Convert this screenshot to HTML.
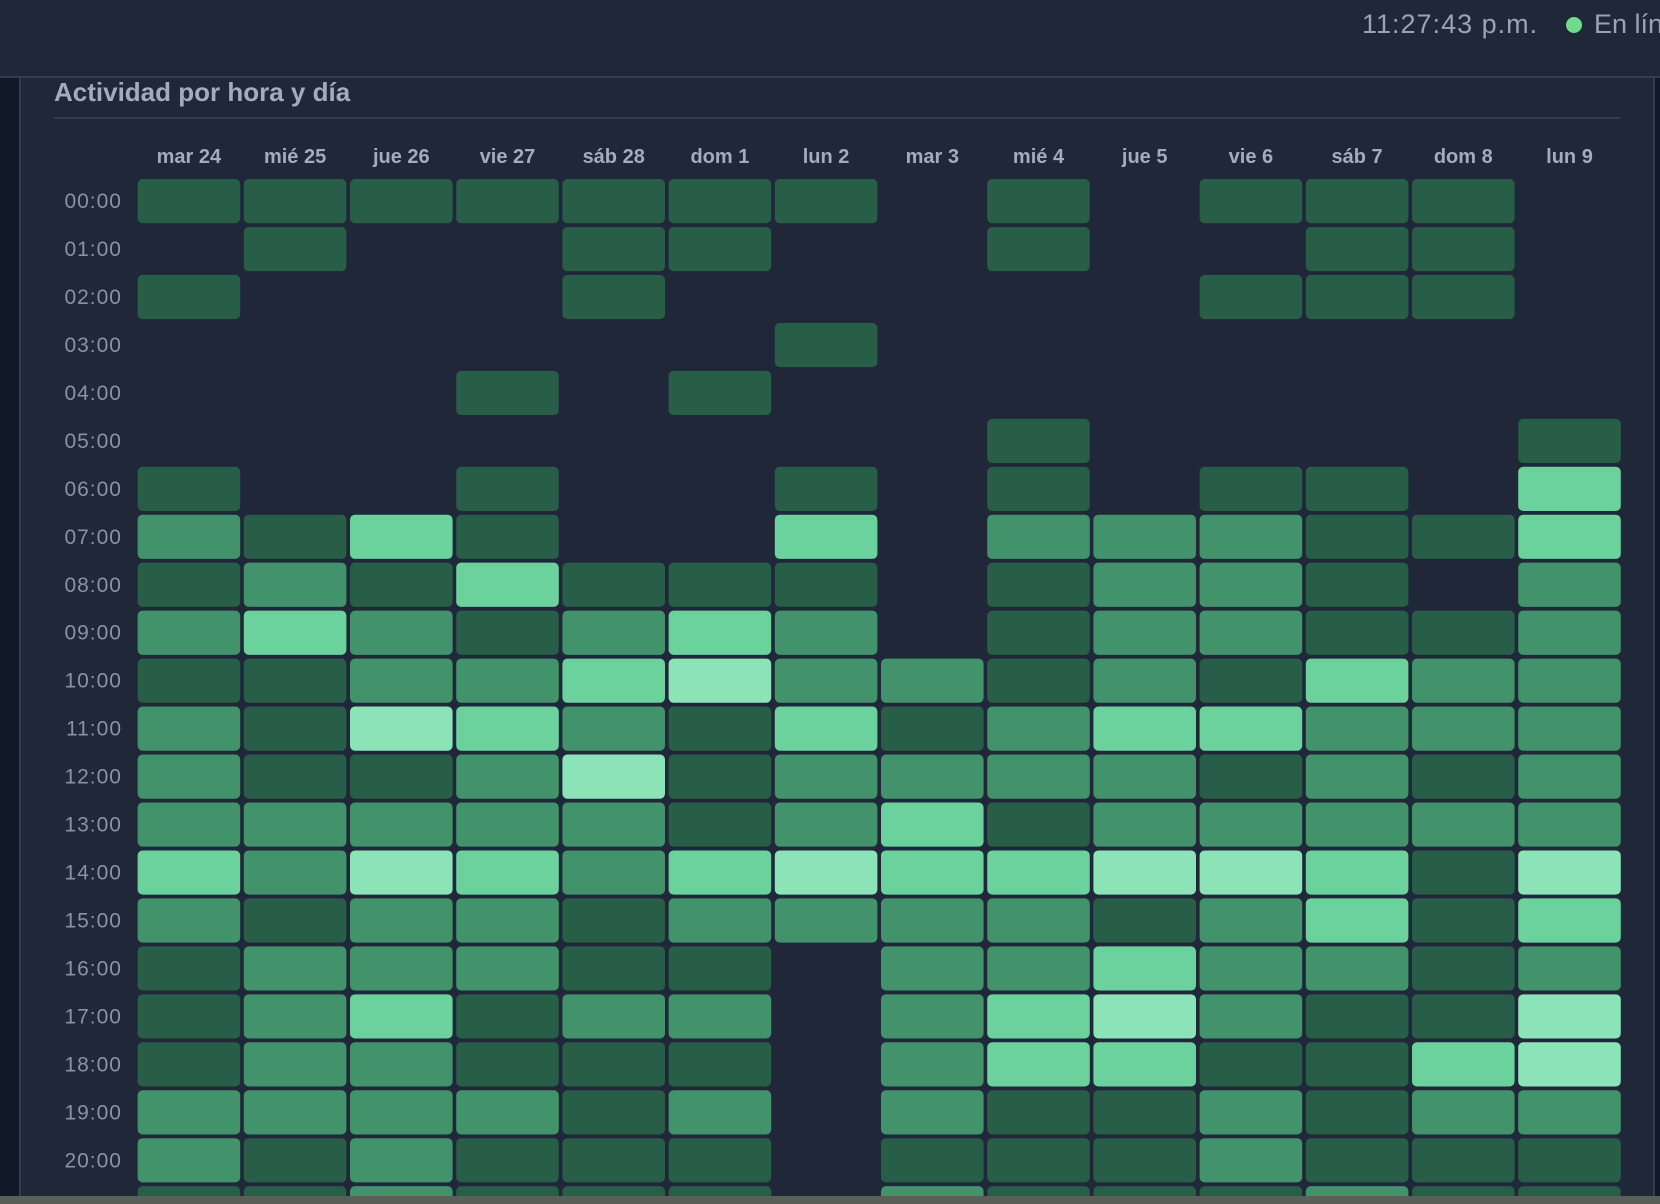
<!DOCTYPE html>
<html><head><meta charset="utf-8">
<style>
html,body{margin:0;padding:0;width:1660px;height:1204px;overflow:hidden;background:#1f2739;font-family:"Liberation Sans",sans-serif}
#top{position:absolute;left:0;top:0;width:1660px;height:76px;background:#1f2739;border-bottom:2px solid #333d50}
#clock{position:absolute;left:1362px;top:9px;font-size:27px;letter-spacing:1px;color:#9aa3b5}
#dot{position:absolute;left:1566px;top:17px;width:16px;height:16px;border-radius:50%;background:#6fdc8c}
#status{position:absolute;left:1594px;top:9px;font-size:27px;color:#9aa3b5;white-space:nowrap}
#leftstrip{position:absolute;left:0;top:78px;width:19px;height:1118px;background:#111827;border-right:2px solid #333d50}
#rightstrip{position:absolute;left:1653px;top:78px;width:7px;height:1118px;background:#111827;border-left:2px solid #333d50}
#bottom{position:absolute;left:0;top:1196px;width:1660px;height:8px;background:#5a6058}
#title{position:absolute;left:54px;top:77px;font-size:26px;font-weight:bold;color:#a3acbd}
#sep{position:absolute;left:54px;top:117px;width:1566px;height:2px;background:#333d50}
svg{position:absolute;left:0;top:0}
</style></head><body>
<div id="top"></div>
<div id="clock">11:27:43 p.m.</div>
<div id="dot"></div>
<div id="status">En línea</div>
<div id="leftstrip"></div>
<div id="rightstrip"></div>
<div id="title">Actividad por hora y día</div>
<div id="sep"></div>
<svg id="chart" width="1660" height="1196"></svg>
<div id="bottom"></div>
<script>
const days=["mar 24","mié 25","jue 26","vie 27","sáb 28","dom 1","lun 2","mar 3","mié 4","jue 5","vie 6","sáb 7","dom 8","lun 9"];
const hours=["00:00","01:00","02:00","03:00","04:00","05:00","06:00","07:00","08:00","09:00","10:00","11:00","12:00","13:00","14:00","15:00","16:00","17:00","18:00","19:00","20:00","21:00"];
const levels=[
[1,1,1,1,1,1,1,0,1,0,1,1,1,0],
[0,1,0,0,1,1,0,0,1,0,0,1,1,0],
[1,0,0,0,1,0,0,0,0,0,1,1,1,0],
[0,0,0,0,0,0,1,0,0,0,0,0,0,0],
[0,0,0,1,0,1,0,0,0,0,0,0,0,0],
[0,0,0,0,0,0,0,0,1,0,0,0,0,1],
[1,0,0,1,0,0,1,0,1,0,1,1,0,3],
[2,1,3,1,0,0,3,0,2,2,2,1,1,3],
[1,2,1,3,1,1,1,0,1,2,2,1,0,2],
[2,3,2,1,2,3,2,0,1,2,2,1,1,2],
[1,1,2,2,3,4,2,2,1,2,1,3,2,2],
[2,1,4,3,2,1,3,1,2,3,3,2,2,2],
[2,1,1,2,4,1,2,2,2,2,1,2,1,2],
[2,2,2,2,2,1,2,3,1,2,2,2,2,2],
[3,2,4,3,2,3,4,3,3,4,4,3,1,4],
[2,1,2,2,1,2,2,2,2,1,2,3,1,3],
[1,2,2,2,1,1,0,2,2,3,2,2,1,2],
[1,2,3,1,2,2,0,2,3,4,2,1,1,4],
[1,2,2,1,1,1,0,2,3,3,1,1,3,4],
[2,2,2,2,1,2,0,2,1,1,2,1,2,2],
[2,1,2,1,1,1,0,1,1,1,2,1,1,1],
[1,1,2,1,1,1,0,2,1,1,1,2,1,1]];
const palette=["none","#285e48","#42936b","#6bd19d","#8de3b8"];
const NS="http://www.w3.org/2000/svg";
const svg=document.getElementById('chart');
const x0=137.6,px=106.2,cw=102.6,y0=179,py=47.96,ch=44.2;
const xs=i=>x0+i*px, ys=j=>y0+j*py;
days.forEach((d,i)=>{
 const t=document.createElementNS(NS,'text');
 t.setAttribute('x',xs(i)+cw/2);t.setAttribute('y',163);
 t.setAttribute('text-anchor','middle');t.setAttribute('font-size','20');t.setAttribute('font-weight','bold');
 t.setAttribute('fill','#a3acbd');t.setAttribute('font-family','Liberation Sans, sans-serif');
 t.textContent=d;
 
 
 svg.appendChild(t);
});
hours.forEach((h,j)=>{
 const t=document.createElementNS(NS,'text');
 t.setAttribute('x',122);t.setAttribute('y',ys(j)+ch/2+7);
 t.setAttribute('text-anchor','end');t.setAttribute('font-size','21');t.setAttribute('letter-spacing','1');
 t.setAttribute('fill','#8a93a6');t.setAttribute('font-family','Liberation Sans, sans-serif');
 t.textContent=h;
 
 
 svg.appendChild(t);
 levels[j].forEach((v,i)=>{
  if(!v)return;
  const r=document.createElementNS(NS,'rect');
  r.setAttribute('x',xs(i));r.setAttribute('y',ys(j));
  r.setAttribute('width',cw);r.setAttribute('height',ch);
  r.setAttribute('rx',5);r.setAttribute('fill',palette[v]);
  
  
  svg.appendChild(r);
 });
});
</script>
</body></html>
